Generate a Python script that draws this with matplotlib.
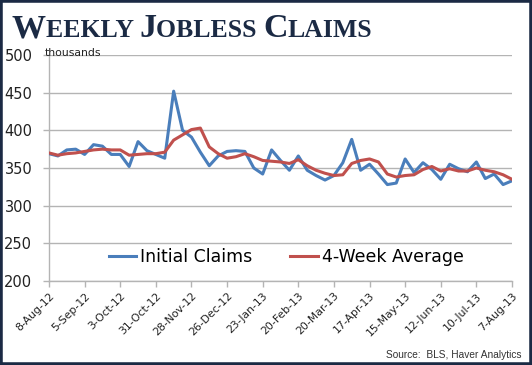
import matplotlib
matplotlib.use("Agg")
from matplotlib import pyplot as plt
from matplotlib.patches import Rectangle

# weekly data, 8-Aug-12 .. 7-Aug-13 (thousands)
initial_claims = [369, 366, 374, 375, 368, 381, 379, 368, 368, 352,
                  385, 373, 368, 363, 452, 400, 391, 371, 353, 366,
                  372, 373, 372, 350, 342, 374, 360, 347, 366, 347,
                  340, 334, 340, 357, 388, 347, 355, 342, 328, 330,
                  362, 344, 357, 348, 335, 355, 349, 345, 358, 336,
                  342, 328, 333]
four_week_avg = [370, 367, 369, 370, 372, 374, 375, 374, 374, 367,
                 368, 369, 369, 371, 387, 394, 401, 403, 378, 369,
                 363, 365, 369, 365, 360, 359, 358, 356, 361, 353,
                 347, 343, 340, 341, 356, 360, 362, 358, 342, 338,
                 340, 341, 348, 352, 346, 349, 346, 346, 350, 347,
                 345, 341, 335]
tick_labels = ["8-Aug-12", "5-Sep-12", "3-Oct-12", "31-Oct-12", "28-Nov-12",
               "26-Dec-12", "23-Jan-13", "20-Feb-13", "20-Mar-13", "17-Apr-13",
               "15-May-13", "12-Jun-13", "10-Jul-13", "7-Aug-13"]
y_ticks = [200, 250, 300, 350, 400, 450, 500]

navy = "#1b2a44"
grid_col = "#b4b4b4"

fig = plt.figure(figsize=(5.32, 3.65), dpi=100)
fig.patch.set_facecolor("white")
ax = fig.add_axes([49 / 532, 1 - 281 / 365, 463 / 532, 226 / 365])

weeks = list(range(len(initial_claims)))
ax.plot(weeks, initial_claims, color="#4a7ebb", lw=2.2, label="Initial Claims", zorder=3)
ax.plot(weeks, four_week_avg, color="#c0504d", lw=2.2, label="4-Week Average", zorder=4)

ax.set_xlim(0, len(weeks) - 1)
ax.set_ylim(200, 500)
ax.set_yticks(y_ticks)
ax.set_yticklabels([str(v) for v in y_ticks], fontsize=10.5, color="#222222")
ax.set_xticks(weeks[::4])
ax.set_xticklabels(tick_labels, rotation=45, ha="right", va="top",
                   rotation_mode="anchor", fontsize=7.8, color="#222222")
ax.tick_params(axis="both", direction="out", length=4, color=grid_col, width=1)
ax.tick_params(axis="x", pad=3)
ax.tick_params(axis="y", pad=8)

ax.grid(axis="y", color=grid_col, lw=1)
ax.set_axisbelow(True)
for s in ["top", "right"]:
    ax.spines[s].set_visible(False)
for s in ["left", "bottom"]:
    ax.spines[s].set_color(grid_col)
    ax.spines[s].set_linewidth(1)

ax.legend(loc="center", bbox_to_anchor=(286 / 532, 1 - 257 / 365),
          bbox_transform=fig.transFigure, ncol=2, frameon=False,
          fontsize=12.5, handlelength=1.6, handletextpad=0.2,
          columnspacing=2.2)

fig.text(45 / 532, 1 - 53 / 365, "thousands", fontsize=7.8, va="center", color="#222222")
fig.text(522 / 532, 1 - 355 / 365, "Source:  BLS, Haver Analytics", fontsize=7.3,
         ha="right", va="center", color="#333333", family="Liberation Sans")

# title in small caps: big first letters, smaller rest
pieces = [("W", 24.5), ("EEKLY ", 18.5), ("J", 24.5), ("OBLESS ", 18.5), ("C", 24.5), ("LAIMS", 18.5)]
x_px = 12
renderer = fig.canvas.get_renderer()
for txt, size in pieces:
    t = fig.text(x_px / 532, 1 - 37 / 365, txt, fontsize=size, family="Liberation Serif",
                 weight="bold", color=navy, va="baseline")
    x_px += t.get_window_extent(renderer=renderer).width

fig.patches.append(Rectangle((0, 0), 1, 1, transform=fig.transFigure, fill=False,
                             edgecolor=navy, lw=4, zorder=10))

fig.savefig("out.png", dpi=100)
